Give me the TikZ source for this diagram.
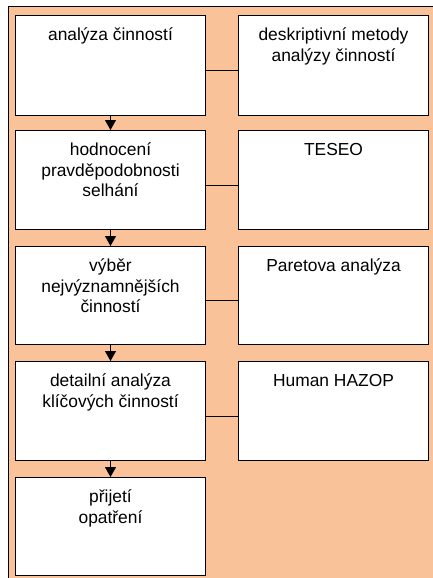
\documentclass[tikz,border=0pt]{standalone}
\usepackage{fontspec}
\setmainfont{Liberation Sans}
\usetikzlibrary{arrows.meta}
\definecolor{panelorange}{RGB}{250,194,153}
\newcommand{\boxtext}[2]{\parbox[c][#1][t]{190pt}{\centering\rule{0pt}{25pt}#2\par}}
\tikzset{
  stage/.style={draw, fill=white, line width=1pt, inner sep=0pt, anchor=north west},
  flow/.style={line width=0.8pt, -{Triangle[width=11pt,length=10pt]}},
  link/.style={line width=0.8pt}
}
\begin{document}
\begin{tikzpicture}[x=1pt,y=-1pt,font=\fontsize{17.4}{20.7}\selectfont]
  \useasboundingbox (0,0) rectangle (432,578);
  \draw[fill=panelorange, line width=1pt] (8,7) rectangle (440,590);
  % left column
  \node[stage] (stage1) at (15,15)  {\boxtext{100pt}{analýza činností}};
  \node[stage] (stage2) at (15,130) {\boxtext{99pt}{hodnocení\\pravděpodobnosti\\selhání}};
  \node[stage] (stage3) at (15,246) {\boxtext{98pt}{výběr\\nejvýznamnějších\\činností}};
  \node[stage] (stage4) at (15,361) {\boxtext{99pt}{detailní analýza\\klíčových činností}};
  \node[stage] (stage5) at (15,477) {\boxtext{98pt}{přijetí\\opatření}};
  % right column
  \node[stage] (method1) at (238,15)  {\boxtext{100pt}{deskriptivní metody\\analýzy činností}};
  \node[stage] (method2) at (238,130) {\boxtext{99pt}{TESEO}};
  \node[stage] (method3) at (238,246) {\boxtext{98pt}{Paretova analýza}};
  \node[stage] (method4) at (238,361) {\boxtext{99pt}{Human HAZOP}};
  \begin{scope}[flow]
    \draw (stage1) -- (stage2);
    \draw (stage2) -- (stage3);
    \draw (stage3) -- (stage4);
    \draw (stage4) -- (stage5);
  \end{scope}
  \begin{scope}[link]
    \draw ([yshift=-5pt]stage1.east) -- ([yshift=-5pt]method1.west);
    \draw ([yshift=-5pt]stage2.east) -- ([yshift=-5pt]method2.west);
    \draw ([yshift=-5pt]stage3.east) -- ([yshift=-5pt]method3.west);
    \draw ([yshift=-5pt]stage4.east) -- ([yshift=-5pt]method4.west);
  \end{scope}
\end{tikzpicture}
\end{document}
